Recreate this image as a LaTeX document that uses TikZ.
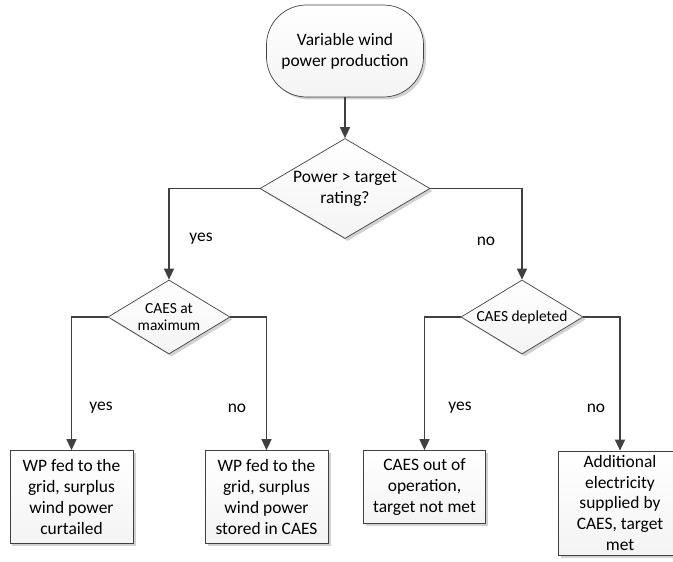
\documentclass[tikz,border=0pt]{standalone}
\usepackage{fontspec}
\setmainfont{Carlito}
\usetikzlibrary{shapes.geometric,arrows.meta,shadows}
\definecolor{linec}{RGB}{64,64,64}
\begin{document}
\begin{tikzpicture}[x=1bp,y=-1bp,
  shp/.style={draw=linec, line width=0.7bp, top color=white, bottom color=gray!9,
    drop shadow={shadow xshift=2.5bp, shadow yshift=-2.5bp, fill=gray!60, opacity=0.6},
    align=center, inner sep=0pt, font=\fontsize{17.5}{21}\selectfont},
  term/.style={shp, rectangle, rounded corners=40bp},
  dec/.style={shp, diamond, shape aspect=1.7},
  smalldec/.style={dec, shape aspect=1.65, font=\fontsize{15.5}{17.5}\selectfont},
  outbox/.style={shp, rectangle},
  conn/.style={draw=linec, line width=1.4bp, -{Triangle[length=11bp,width=10bp]}},
  lbl/.style={font=\fontsize{17.5}{21}\selectfont, inner sep=0pt}
]
\useasboundingbox (0,0) rectangle (673,562);
\clip (0,0) rectangle (673,562);

\node[term, minimum width=157bp, minimum height=92bp] (start) at (345,51) {Variable wind\\power production};
\node[dec, minimum width=170bp, minimum height=100bp] (d1) at (345,188.5) {Power > target\\rating?};
\node[smalldec, minimum width=122bp, minimum height=74bp] (d2) at (169,317) {CAES at\\maximum};
\node[smalldec, minimum width=122bp, minimum height=74bp] (d3) at (522,317) {CAES depleted};

\node[outbox, minimum width=123bp, minimum height=93bp] (b1) at (71.5,497) {WP fed to the\\grid, surplus\\wind power\\curtailed};
\node[outbox, minimum width=123bp, minimum height=93bp] (b2) at (266.5,497) {WP fed to the\\grid, surplus\\wind power\\stored in CAES};
\node[outbox, minimum width=122bp, minimum height=73bp] (b3) at (424.5,487) {CAES out of\\operation,\\target not met};
\node[outbox, minimum width=124bp, minimum height=104bp] (b4) at (620,503) {Additional\\electricity\\supplied by\\CAES, target\\met};

\draw[conn] (start.south) -- (d1.north);
\draw[conn] (d1.west) -| (d2.north);
\draw[conn] (d1.east) -| (d3.north);
\draw[conn] (d2.west) -| (b1.north);
\draw[conn] (d2.east) -| (b2.north);
\draw[conn] (d3.west) -| (b3.north);
\draw[conn] (d3.east) -| (b4.north);

\node[lbl] (l1) at (201,239) {yes};
\node[lbl] (l2) at (486,241) {no};
\node[lbl] (l3) at (101,408) {yes};
\node[lbl] (l4) at (237,408) {no};
\node[lbl] (l5) at (460,408) {yes};
\node[lbl] (l6) at (596,408) {no};
\end{tikzpicture}
\end{document}
